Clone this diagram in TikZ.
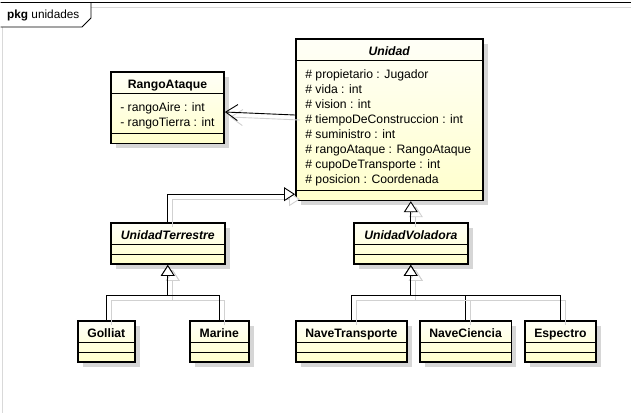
\documentclass[tikz,border=0pt]{standalone}
\usepackage{fontspec}
\setmainfont{Liberation Sans}
\usepackage{tikz}
\usetikzlibrary{positioning,arrows.meta,shapes.multipart,shadows}
\newcommand{\hstrut}{\rule[-3pt]{0pt}{17pt}}
\newcommand{\attrs}[1]{\begin{tabular}{@{}l@{}}\rule{0pt}{16pt}#1\end{tabular}}

\begin{document}
\begin{tikzpicture}[x=1pt, y=-1pt,
            umlclass/.style = {rectangle split, rectangle split parts=3, rectangle split draw splits=false,
                rectangle split part align={center,left,left},
                anchor=north west, draw, line width=1.6pt, inner xsep=9.5pt, inner ysep=1.5pt,
                top color=yellow!3!white, bottom color=yellow!20!white,
                drop shadow={shadow xshift=5pt, shadow yshift=-5pt, fill=black!16, opacity=1},
                font=\fontsize{12.2}{15}\selectfont},
            link/.style = {line width=0.9pt,
                preaction={draw=black!18, line width=0.9pt, transform canvas={shift={(5pt,-5pt)}}}},
            gen/.style = {link, -{Triangle[open, length=11pt, width=14pt, fill=white]}},
            assoc/.style = {link, -{Straight Barb[length=12pt, width=16pt]}}]
            \useasboundingbox (0,0) rectangle (631,413);
            % package frame
            \draw[black!15] (91,7) -- (631,7) (2.5,27) -- (2.5,413);
            \draw[line width=1pt] (0.5,2.5) -- (631,2.5);
            \draw[line width=0.9pt] (0.5,2.5) -- (91,2.5) -- (91,18) -- (82,27) -- (0.5,27);
            \node[anchor=base west, inner sep=0, font=\fontsize{11.8}{14}\selectfont] (pkg) at (7,18.5) {\textbf{pkg} unidades};
            % classes
            \node[umlclass, minimum width=113pt] (rango) at (110,71)
                {\textbf{\hstrut RangoAtaque}\nodepart{two}\attrs{- rangoAire : int\\- rangoTierra : int}\nodepart{three}};
            \node[umlclass, minimum width=187pt] (unidad) at (295,38)
                {\textbf{\textit{\hstrut Unidad}}\nodepart{two}\attrs{\# propietario : Jugador\\\# vida : int\\\# vision : int\\
                \# tiempoDeConstruccion : int\\\# suministro : int\\\# rangoAtaque : RangoAtaque\\
                \# cupoDeTransporte : int\\\# posicion : Coordenada}\nodepart{three}};
            \node[umlclass, minimum width=114pt] (terrestre) at (110,222)
                {\textbf{\textit{\hstrut UnidadTerrestre}}\nodepart{two}\nodepart{three}};
            \node[umlclass, minimum width=114pt] (voladora) at (353,222)
                {\textbf{\textit{\hstrut UnidadVoladora}}\nodepart{two}\nodepart{three}};
            \node[umlclass, minimum width=55pt] (golliat) at (77,320) {\textbf{\hstrut Golliat}\nodepart{two}\nodepart{three}};
            \node[umlclass, minimum width=59pt] (marine) at (189,320) {\textbf{\hstrut Marine}\nodepart{two}\nodepart{three}};
            \node[umlclass, minimum width=111pt] (transporte) at (295,320) {\textbf{\hstrut NaveTransporte}\nodepart{two}\nodepart{three}};
            \node[umlclass, minimum width=91pt] (ciencia) at (419,320) {\textbf{\hstrut NaveCiencia}\nodepart{two}\nodepart{three}};
            \node[umlclass, minimum width=71pt] (espectro) at (524,320) {\textbf{\hstrut Espectro}\nodepart{two}\nodepart{three}};
            \foreach \c in {rango,unidad,terrestre,voladora,golliat,marine,transporte,ciencia,espectro}
                \draw[line width=0.8pt] (\c.text split west) -- (\c.text split east)
                    (\c.two split west) -- (\c.two split east);
            % relations
            \draw[assoc] ([yshift=-77pt]unidad.north west) -- ([yshift=-41pt]rango.north east);
            \draw[gen] (terrestre.north) |- ([yshift=7pt]unidad.south west);
            \draw[gen] (voladora.north) -- (voladora.north |- unidad.south);
            \coordinate (tbar) at ([yshift=-30pt]terrestre.south);
            \coordinate (vbar) at ([yshift=-30pt]voladora.south);
            \foreach \c in {golliat,marine}
                \draw[gen] (\c.north) |- (tbar) -- (terrestre.south);
            \foreach \c in {transporte,ciencia,espectro}
                \draw[gen] (\c.north) |- (vbar) -- (voladora.south);
\end{tikzpicture}
\end{document}
